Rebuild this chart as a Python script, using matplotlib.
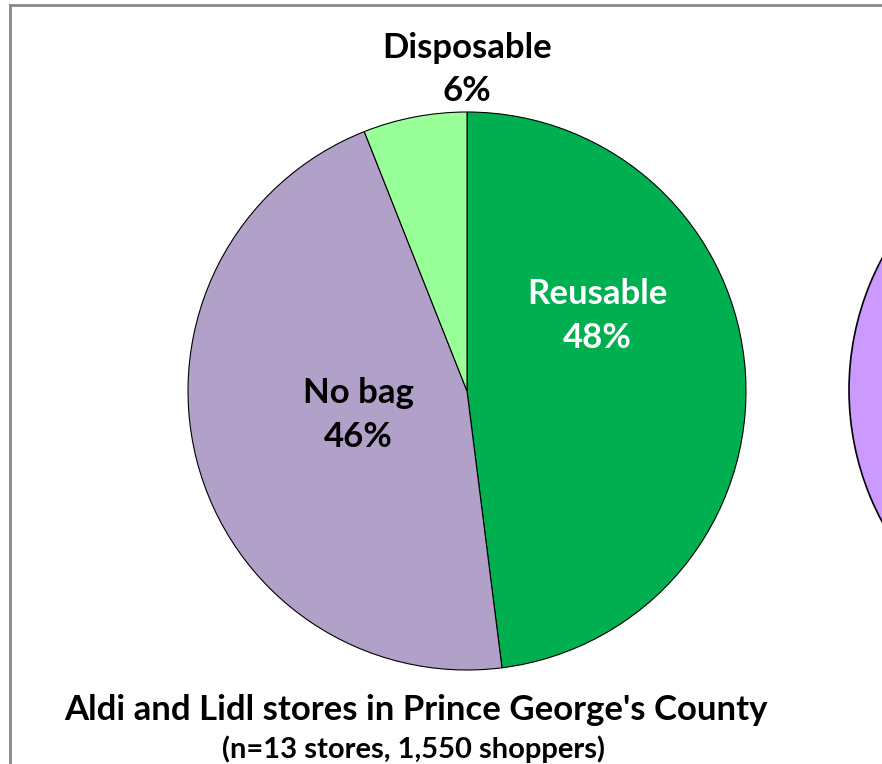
import matplotlib
matplotlib.use("Agg")
import matplotlib.pyplot as plt
from matplotlib.lines import Line2D

categories = ["Reusable", "No bag", "Disposable"]
values = [48, 46, 6]
colors = ["#00B050", "#B1A0C7", "#99FF99"]
label_colors = ["white", "black", "black"]

neighbor_values = [100]
neighbor_colors = ["#CC99FF"]

title = "Aldi and Lidl stores in Prince George's County"
subtitle = "(n=13 stores, 1,550 shoppers)"

W, H = 882, 764
fig = plt.figure(figsize=(W / 100, H / 100), dpi=100)
plt.rcParams['font.family'] = ['Lato', 'DejaVu Sans']

R = 279
def add_pie_axes(cx, cy):
    return fig.add_axes([(cx - R) / W, (H - cy - R) / H, 2 * R / W, 2 * R / H])

ax = add_pie_axes(467, 391)
ax.pie(values, colors=colors, startangle=90, counterclock=False, radius=1,
       wedgeprops=dict(edgecolor="black", linewidth=0.8))
ax.set_xlim(-1, 1)
ax.set_ylim(-1, 1)
ax.set_aspect('equal')
ax.axis('off')

label_pos = [(0.466, 0.27), (-0.39, -0.085), (0.0, 1.152)]
for cat, v, (x, y), c in zip(categories, values, label_pos, label_colors):
    ax.text(x, y, f"{cat}\n{v}%", ha='center', va='center', fontsize=25,
            fontweight='bold', color=c, linespacing=1.45, clip_on=False)

ax2 = add_pie_axes(1128, 390)
ax2.pie(neighbor_values, colors=neighbor_colors, startangle=90, radius=1,
        wedgeprops=dict(edgecolor="black", linewidth=1.2))
ax2.set_xlim(-1, 1)
ax2.set_ylim(-1, 1)
ax2.set_aspect('equal')
ax2.axis('off')

fig.add_artist(Line2D([10 / W, 10 / W], [0, 1 - 5 / H], color="#888888", lw=2,
                      transform=fig.transFigure))
fig.add_artist(Line2D([10 / W, 1], [1 - 5 / H, 1 - 5 / H], color="#888888", lw=2,
                      transform=fig.transFigure))

fig.text(416 / W, 1 - 710 / H, title, ha='center', va='center', fontsize=25,
         fontweight='bold')
fig.text(414 / W, 1 - 749 / H, subtitle, ha='center', va='center', fontsize=21,
         fontweight='bold')

fig.savefig("out.png", dpi=100)
